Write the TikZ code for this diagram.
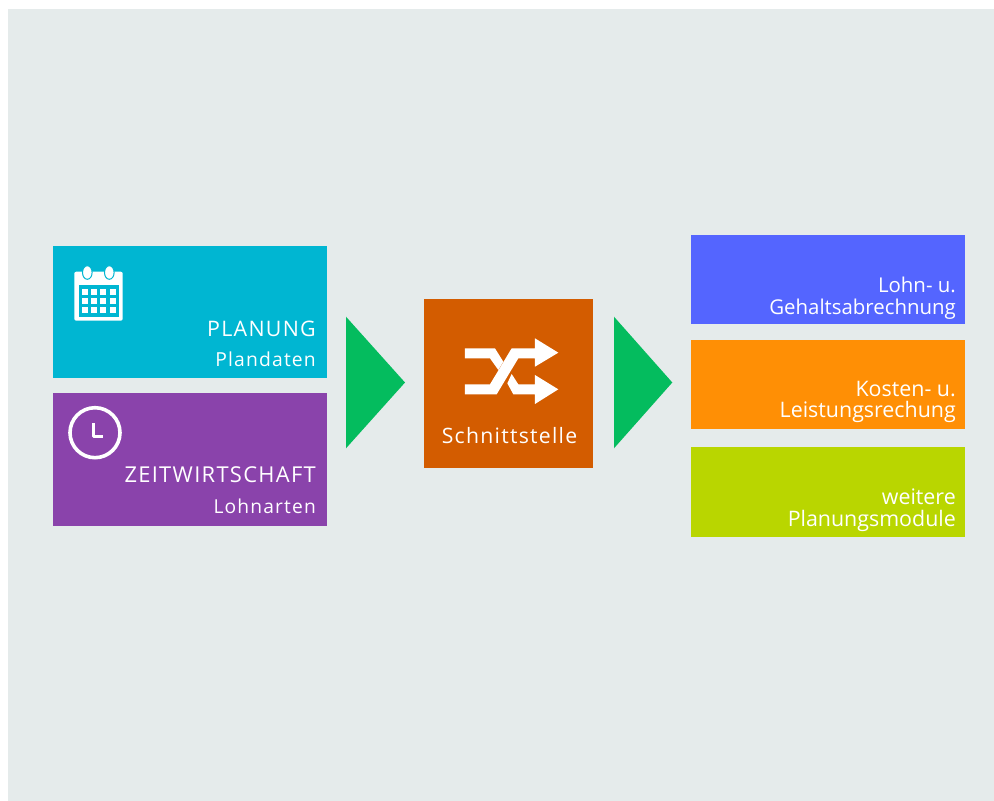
\documentclass[tikz,border=0pt]{standalone}
\usepackage{fontspec}
\setmainfont{Open Sans}
\newfontfamily\spaced[LetterSpace=6]{Open Sans}
\definecolor{bgc}{HTML}{E5EBEB}
\definecolor{cyanc}{HTML}{00B6D2}
\definecolor{purplec}{HTML}{8A43AB}
\definecolor{rustc}{HTML}{D35C00}
\definecolor{greenc}{HTML}{04BC5E}
\definecolor{bluec}{HTML}{5465FF}
\definecolor{orangec}{HTML}{FF8F05}
\definecolor{limec}{HTML}{B9D600}
\tikzset{
  lbl/.style={anchor=base east,inner sep=0pt,text=white,font=#1},
  lbl/.default={\fontsize{21.4}{21.4}\selectfont},
  tri/.style={fill=greenc,draw=none},
  boxc/.style={draw=none,fill=#1},
  whiteshape/.style={fill=white,draw=none}
}
\begin{document}
\begin{tikzpicture}[x=1pt,y=-1pt]
\useasboundingbox (0,0) rectangle (994,801);
\fill[white] (0,0) rectangle (994,801);
\fill[bgc] (8,9) rectangle (994,801);
% boxes
\path[boxc=cyanc] (52.7,246) rectangle (326.7,377.7);
\path[boxc=purplec] (52.7,392.7) rectangle (326.7,526);
\path[boxc=rustc] (424.3,299) rectangle (593.3,467.7);
\path[boxc=bluec] (691,234.7) rectangle (965.3,324.3);
\path[boxc=orangec] (691,339.7) rectangle (965.3,429);
\path[boxc=limec] (691,447.3) rectangle (965.3,537);
% triangles
\path[tri] (346,316.7) -- (405,382.5) -- (346,448.3) -- cycle;
\path[tri] (614,316.7) -- (672.3,382.5) -- (614,448.3) -- cycle;
% calendar icon
\fill[white,rounded corners=2pt] (74.3,271.7) rectangle (122.7,320.7);
\fill[cyanc] (78.7,285) rectangle (119.3,316.7);
\foreach \ex in {87.3,109.3}{
  \filldraw[fill=white,draw=cyanc,line width=1pt] (\ex,272.5) ellipse (4.8 and 6.8);
}
\foreach \cx in {84.7,94,103.3,112.7}
  \foreach \cy in {291.7,301,310.3}
    \fill[white] (\cx-2.9,\cy-2.9) rectangle (\cx+2.9,\cy+2.9);
% clock icon
\draw[white,line width=3.6pt] (95,432.7) circle (25);
\draw[white,line width=3pt,line join=round] (93.3,423.3) -- (93.3,436.5) -- (102.7,436.5);
% shuffle icon
\begin{scope}[shift={(340,290)},x=0.3333pt,y=-0.3333pt]
\fill[whiteshape] (375,283) -- (450,283) -- (515,175) -- (585,175) -- (585,145) -- (655,188) -- (585,230) -- (585,205) -- (535,205) -- (470,313) -- (375,313) -- cycle;
\fill[whiteshape] (375,175) -- (465,175) -- (490,215) -- (475,240) -- (450,205) -- (375,205) -- cycle;
\fill[whiteshape] (515,252) -- (535,283) -- (585,283) -- (585,255) -- (655,298) -- (585,342) -- (585,313) -- (520,313) -- (502,280) -- cycle;
\end{scope}
% labels
\node[lbl={\spaced\fontsize{21.4}{21.4}\selectfont}] (t1) at (316,336) {PLANUNG};
\node[lbl={\spaced\fontsize{19.3}{19.3}\selectfont}] (t2) at (316,366.7) {Plandaten};
\node[lbl={\spaced\fontsize{21.9}{21.9}\selectfont}] (t3) at (316,482.7) {ZEITWIRTSCHAFT};
\node[lbl={\spaced\fontsize{19.2}{19.2}\selectfont}] (t4) at (316,513.3) {Lohnarten};
\node[lbl={\spaced\fontsize{21.2}{21.2}\selectfont},anchor=base] (t5) at (509.5,443.3) {Schnittstelle};
\node[lbl={\fontsize{20.4}{20.4}\selectfont}] (t6) at (956,292.7) {Lohn- u.};
\node[lbl={\fontsize{20.4}{20.4}\selectfont}] (t7) at (956,314.3) {Gehaltsabrechnung};
\node[lbl] (t8) at (956,396) {Kosten- u.};
\node[lbl] (t9) at (956,417.7) {Leistungsrechung};
\node[lbl] (t10) at (956,504) {weitere};
\node[lbl] (t11) at (956,526.7) {Planungsmodule};
\end{tikzpicture}
\end{document}
